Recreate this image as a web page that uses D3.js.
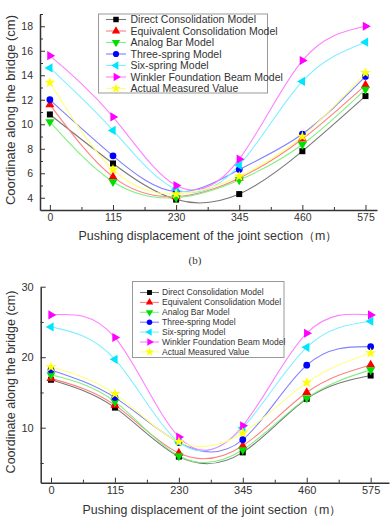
<!DOCTYPE html>
<html><head><meta charset="utf-8">
<script src="https://cdn.jsdelivr.net/npm/d3@7"></script>
<style>body{margin:0;background:#fff}svg{display:block}</style>
</head><body><svg id="c" width="391" height="531"></svg>
<script>
const xPositions = [0, 115, 230, 345, 460, 575];
const seriesNames = ["Direct Consolidation Model","Equivalent Consolidation Model","Analog Bar Model","Three-spring Model","Six-spring Model","Winkler Foundation Beam Model","Actual Measured Value"];
const seriesColors = ["#000000","#ff0000","#00e000","#0000ff","#00e5ff","#ff00ff","#ffff00"];
const lineColors = ["#777777","#ff8080","#80f080","#8080ff","#80f0ff","#ff80ff","#ffff80"];
// top panel
const topDirect = [10.8, 6.8, 3.85, 4.3, 7.8, 12.3];
const topEquivalent = [11.6, 5.7, 4.1, 5.6, 8.8, 13.2];
const topAnalog = [10.2, 5.3, 4.0, 5.45, 8.35, 12.85];
const topThree = [12.0, 7.42, 4.5, 6.3, 9.2, 13.9];
const topSix = [14.6, 9.5, 4.7, 6.66, 13.5, 16.7];
const topWinkler = [15.6, 10.6, 5.0, 7.15, 15.2, 18.0];
const topActual = [13.4, 6.3, 4.3, 5.75, 9.0, 14.2];
// bottom panel
const botDirect = [16.8, 12.85, 5.9, 6.5, 14.1, 17.4];
const botEquivalent = [17.0, 13.2, 6.4, 7.44, 15.0, 18.9];
const botAnalog = [17.5, 13.7, 6.0, 6.87, 14.2, 18.2];
const botThree = [18.2, 14.27, 7.9, 8.3, 18.87, 21.5];
const botSix = [24.3, 19.7, 7.97, 10.0, 21.4, 25.1];
const botWinkler = [26.0, 22.8, 8.68, 10.28, 23.4, 26.0];
const botActual = [18.6, 14.8, 8.0, 9.25, 16.4, 20.6];
const topYTicks = [4, 6, 8, 10, 12, 14, 16, 18];
const botYTicks = [10, 20, 30];
const xTickLabels = ["0","115","230","345","460","575"];

const symbols = [d3.symbolSquare, d3.symbolTriangle, "tridown", d3.symbolCircle, "trileft", "triright", d3.symbolStar];

const svg = d3.select("#c");
const font = "'Liberation Sans', Arial, sans-serif";

function marker(g, idx, x, y, size) {
  const s = symbols[idx];
  let path, rot = 0;
  if (s === "tridown") { path = d3.symbol(d3.symbolTriangle, size)(); rot = 180; }
  else if (s === "trileft") { path = d3.symbol(d3.symbolTriangle, size)(); rot = -90; }
  else if (s === "triright") { path = d3.symbol(d3.symbolTriangle, size)(); rot = 90; }
  else path = d3.symbol(s, size)();
  g.append("path").attr("d", path)
    .attr("transform", `translate(${x},${y}) rotate(${rot})`)
    .attr("fill", seriesColors[idx]);
}

function panel(cfg) {
  const g = svg.append("g");
  const x = d3.scaleLinear().domain(cfg.xDomain).range(cfg.xRange);
  const y = d3.scaleLinear().domain(cfg.yDomain).range(cfg.yRange);
  const axisColor = "#333";
  const line = d3.line().x((d,i) => x(xPositions[i])).y(d => y(d)).curve(d3.curveNatural);
  cfg.series.forEach((s, i) => {
    g.append("path").attr("d", line(s)).attr("fill","none")
      .attr("stroke", lineColors[i]).attr("stroke-width", 1.1);
  });
  cfg.series.forEach((s, i) => {
    s.forEach((v, j) => marker(g, i, x(xPositions[j]), y(v), cfg.msize));
  });
  const xAxis = d3.axisBottom(x).tickValues(xPositions).tickFormat((d,i)=>xTickLabels[i]).tickSizeInner(-5).tickSizeOuter(0).tickPadding(cfg.xPad);
  const xa = g.append("g").attr("transform", `translate(0,${cfg.yRange[0]})`).call(xAxis);
  const minorX = xPositions.slice(0,-1).map(v => v + 57.5);
  g.append("g").attr("transform", `translate(0,${cfg.yRange[0]})`)
    .call(d3.axisBottom(x).tickValues(minorX).tickFormat("").tickSizeInner(-3).tickSizeOuter(0))
    .select(".domain").remove();
  const yAxis = d3.axisLeft(y).tickValues(cfg.yTicks).tickSizeInner(-5).tickSizeOuter(0).tickPadding(cfg.yPad);
  const ya = g.append("g").attr("transform", `translate(${cfg.xRange[0]},0)`).call(yAxis);
  g.append("g").attr("transform", `translate(${cfg.xRange[0]},0)`)
    .call(d3.axisLeft(y).tickValues(cfg.yMinor).tickFormat("").tickSizeInner(-3).tickSizeOuter(0))
    .select(".domain").remove();
  g.selectAll(".domain").attr("stroke", axisColor).attr("stroke-width", 1.5);
  g.selectAll(".tick line").attr("stroke", axisColor).attr("stroke-width", 1);
  xa.selectAll("text").attr("font-family", font).attr("font-size", cfg.tickFs).attr("fill","#333");
  ya.selectAll("text").attr("font-family", font).attr("font-size", cfg.tickFs).attr("fill","#333");
  g.append("text").attr("x", cfg.xTitlePos[0]).attr("y", cfg.xTitlePos[1])
    .attr("text-anchor","middle").attr("font-family", font).attr("font-size", cfg.titleFs).attr("fill","#333")
    .text("Pushing displacement of the joint section（m）");
  g.append("text").attr("transform", `translate(${cfg.yTitlePos[0]},${cfg.yTitlePos[1]}) rotate(-90)`)
    .attr("text-anchor","middle").attr("font-family", font).attr("font-size", cfg.yTitleFs).attr("fill","#333")
    .text("Coordinate along the bridge (cm)");
  const L = cfg.legend;
  const lg = g.append("g");
  lg.append("rect").attr("x", L.x).attr("y", L.y).attr("width", L.w).attr("height", L.h)
    .attr("fill","#fff").attr("stroke","#999").attr("stroke-width",1);
  seriesNames.forEach((n, i) => {
    const yy = L.y0 + i * L.dy;
    lg.append("line").attr("x1", L.lx0).attr("x2", L.lx1).attr("y1", yy).attr("y2", yy)
      .attr("stroke", lineColors[i]).attr("stroke-width", 1.1);
    marker(lg, i, (L.lx0 + L.lx1) / 2, yy, L.msize);
    lg.append("text").attr("x", L.tx).attr("y", yy).attr("dy","0.35em")
      .attr("font-family", font).attr("font-size", L.fs).attr("fill","#333").text(n);
  });
}

panel({
  xDomain: [-18, 596], xRange: [40, 377],
  yDomain: [3, 19], yRange: [210, 14],
  yTicks: topYTicks, yMinor: [5,7,9,11,13,15,17,19],
  series: [topDirect, topEquivalent, topAnalog, topThree, topSix, topWinkler, topActual],
  msize: 36, tickFs: 10.5, titleFs: 12.4, yTitleFs: 13, xPad: 4, yPad: 7,
  xTitlePos: [208, 239.5], yTitlePos: [15, 110],
  legend: {x: 98.5, y: 14, w: 169, h: 79, y0: 19.5, dy: 11.5, lx0: 106, lx1: 126, tx: 130.5, fs: 10.5, msize: 30}
});

panel({
  xDomain: [-18.5, 608], xRange: [40.7, 389],
  yDomain: [2.2, 30], yRange: [482.7, 286.7],
  yTicks: botYTicks, yMinor: [5, 15, 25],
  series: [botDirect, botEquivalent, botAnalog, botThree, botSix, botWinkler, botActual],
  msize: 36, tickFs: 11, titleFs: 12.4, yTitleFs: 12.5, xPad: 4, yPad: 7,
  xTitlePos: [212, 513.5], yTitlePos: [15, 382],
  legend: {x: 132.5, y: 281.5, w: 151.5, h: 76, y0: 292.5, dy: 9.9, lx0: 140, lx1: 159, tx: 162, fs: 8.5, msize: 24}
});

svg.append("text").attr("x", 195).attr("y", 264).attr("text-anchor","middle")
  .attr("font-family","'Liberation Serif', 'Times New Roman', serif").attr("font-size", 11).attr("fill","#333").text("(b)");
</script>
</body></html>
